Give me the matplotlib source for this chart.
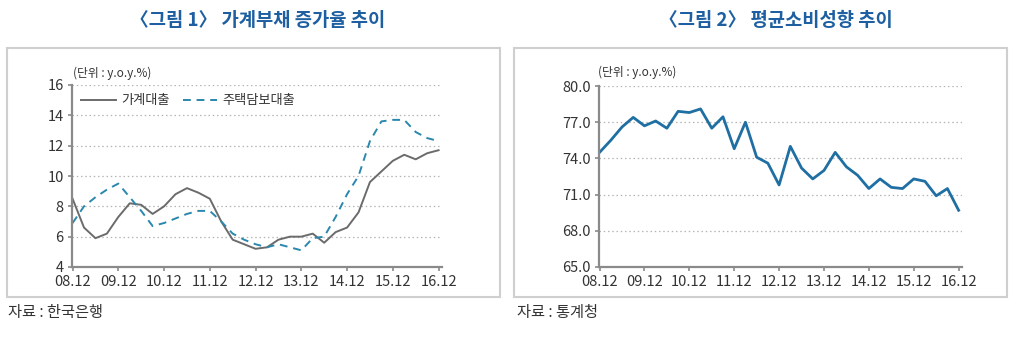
import matplotlib
matplotlib.use("Agg")
import matplotlib.pyplot as plt
from matplotlib.patches import Rectangle

plt.rcParams["font.family"] = ["Noto Sans CJK KR", "DejaVu Sans"]

# quarterly, 08.12 .. 16.12 (33 points)
tick_pos = [0, 4, 8, 12, 16, 20, 24, 28, 32]
tick_lab = ["08.12", "09.12", "10.12", "11.12", "12.12", "13.12", "14.12", "15.12", "16.12"]

household = [8.5, 6.6, 5.9, 6.2, 7.3, 8.2, 8.1, 7.5, 8.0, 8.8, 9.2, 8.9, 8.5, 7.0, 5.8, 5.5,
             5.2, 5.3, 5.8, 6.0, 6.0, 6.2, 5.6, 6.3, 6.6, 7.6, 9.6, 10.3, 11.0, 11.4, 11.1, 11.5, 11.7]
mortgage = [6.9, 8.0, 8.6, 9.1, 9.5, 8.6, 7.7, 6.7, 6.9, 7.2, 7.5, 7.7, 7.7, 7.0, 6.2, 5.8,
            5.5, 5.3, 5.5, 5.3, 5.1, 5.9, 6.0, 7.3, 8.8, 10.0, 12.3, 13.6, 13.7, 13.7, 12.9, 12.5, 12.3]
propensity = [74.5, 75.5, 76.6, 77.4, 76.7, 77.1, 76.5, 77.9, 77.8, 78.1, 76.5, 77.45, 74.8, 77.0,
              74.1, 73.6, 71.8, 75.0, 73.2, 72.3, 73.0, 74.5, 73.3, 72.6, 71.5, 72.3, 71.6, 71.5,
              72.3, 72.1, 70.9, 71.5, 69.7]

W, H = 1024, 345
fig = plt.figure(figsize=(W / 100, H / 100), dpi=100)

TITLE_C = "#1d5fa0"
TXT = "#333333"
AX_C = "#8a8a8a"


def box(x0, y0, x1, y1):
    fig.patches.append(Rectangle((x0 / W, 1 - y1 / H), (x1 - x0) / W, (y1 - y0) / H,
                                 transform=fig.transFigure, fill=False,
                                 ec="#cfcfcf", lw=1.5))


def style(ax, yt, ylab):
    ax.set_xlim(-0.05, 32.3)
    ax.set_xticks(tick_pos)
    ax.set_xticklabels(tick_lab)
    ax.set_yticks(yt)
    ax.set_yticklabels(ylab)
    for s in ["top", "right"]:
        ax.spines[s].set_visible(False)
    for s in ["left", "bottom"]:
        ax.spines[s].set_color(AX_C)
        ax.spines[s].set_linewidth(1.6)
    ax.tick_params(axis="both", colors=AX_C, labelcolor=TXT, labelsize=10.5,
                   length=3, width=1.2)
    ax.tick_params(axis="x", pad=3)
    ax.tick_params(axis="y", pad=3)
    for y in yt[1:]:
        ax.axhline(y, color="#b5b5b5", lw=0.9, ls=(0, (1.2, 2.2)), zorder=0)
    ax.patch.set_alpha(0)


box(7, 48, 500, 297)
box(514, 48, 1007, 297)

# ---- chart 1
ax1 = fig.add_axes([72 / W, 1 - 267 / H, (442 - 72) / W, (267 - 85) / H])
x = range(len(household))
ax1.plot(x, household, color="#6b6b6b", lw=1.4, label="가계대출")
ax1.plot(x, mortgage, color="#2a87ad", lw=1.4, ls=(0, (4, 3)), label="주택담보대출")
ax1.set_ylim(4, 16)
style(ax1, [4, 6, 8, 10, 12, 14, 16], ["4", "6", "8", "10", "12", "14", "16"])
ax1.legend(loc="upper left", bbox_to_anchor=(0.0, 1.0), ncol=2, frameon=False,
           fontsize=9.5, handlelength=2.6, columnspacing=1.0, handletextpad=0.4,
           borderaxespad=0.3, labelcolor=TXT)

# ---- chart 2
ax2 = fig.add_axes([599 / W, 1 - 267 / H, (962 - 599) / W, (267 - 86) / H])
ax2.plot(range(len(propensity)), propensity, color="#1f6fa3", lw=2.0)
ax2.set_ylim(65, 80)
yt2 = [65, 68, 71, 74, 77, 80]
style(ax2, yt2, [f"{v:.1f}" for v in yt2])

# ---- texts
fig.text(73 / W, 1 - 73 / H, "(단위 : y.o.y.%)", fontsize=8.5, color=TXT, va="center")
fig.text(598 / W, 1 - 72 / H, "(단위 : y.o.y.%)", fontsize=8.5, color=TXT, va="center")
fig.text(258 / W, 1 - 20 / H, "〈그림 1〉 가계부채 증가율 추이", fontsize=13.5,
         fontweight="bold", color=TITLE_C, ha="center", va="center")
fig.text(776 / W, 1 - 20 / H, "〈그림 2〉 평균소비성향 추이", fontsize=13.5,
         fontweight="bold", color=TITLE_C, ha="center", va="center")
fig.text(8 / W, 1 - 313 / H, "자료 : 한국은행", fontsize=11, color=TXT, va="center")
fig.text(517 / W, 1 - 313 / H, "자료 : 통계청", fontsize=11, color=TXT, va="center")

fig.savefig("out.png", dpi=100, facecolor="white")
